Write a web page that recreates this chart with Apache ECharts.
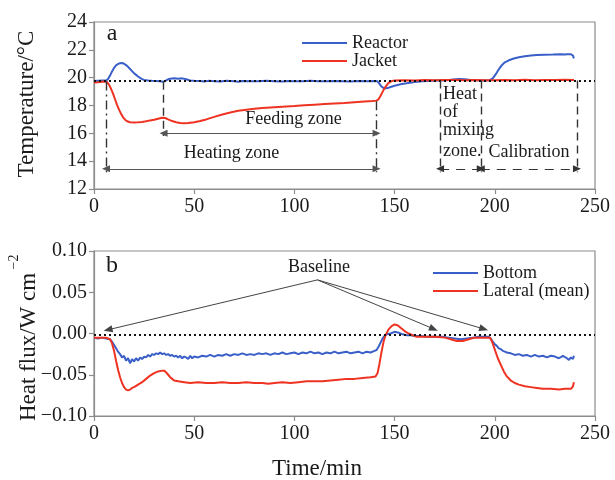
<!DOCTYPE html>
<html>
<head>
<meta charset="utf-8">
<script src="https://cdn.jsdelivr.net/npm/echarts@6/dist/echarts.min.js"></script>
<style>
  html, body { margin: 0; padding: 0; background: #fff; }
  #chart { width: 615px; height: 480px; }
</style>
</head>
<body>
<div id="chart"></div>
<script>
// Axis ranges [min, max, step]
const timeRange = [0, 250, 50];
const tempRange = [12, 24, 2];
const fluxRange = [-0.1, 0.1, 0.05];

// (a) Temperatures, [time/min, °C]
const reactorTemp = [[0,19.76],[2,19.78],[4,19.79],[6,19.8],[7,19.9],[8,20.15],[9,20.45],[10,20.7],[11,20.88],[12,20.98],[13,21.04],[14,21.05],[15,21.0],[16,20.9],[17,20.78],[18,20.62],[19,20.47],[20,20.32],[21,20.2],[22,20.08],[23,19.98],[24,19.9],[25,19.84],[27,19.79],[29,19.77],[31,19.76],[33,19.74],[34.5,19.7],[36,19.8],[37,19.88],[38,19.92],[40,19.95],[42,19.93],[44,19.95],[46,19.88],[48,19.8],[50,19.77],[53,19.76],[55,19.72],[57,19.77],[60,19.75],[63,19.73],[66,19.77],[70,19.75],[72,19.71],[74,19.76],[78,19.75],[82,19.74],[86,19.77],[90,19.75],[94,19.72],[97,19.76],[100,19.75],[104,19.74],[108,19.77],[112,19.75],[116,19.74],[120,19.76],[124,19.75],[128,19.73],[132,19.76],[136,19.75],[140,19.76],[141.5,19.74],[142.5,19.55],[143.5,19.35],[145,19.22],[146.5,19.25],[148,19.33],[150,19.42],[153,19.52],[156,19.6],[160,19.68],[164,19.74],[168,19.78],[172,19.8],[176,19.82],[179,19.86],[182,19.9],[185,19.88],[188,19.84],[191,19.81],[195,19.8],[197.5,19.82],[199,19.95],[200.5,20.25],[202,20.6],[203.5,20.9],[205,21.1],[207,21.25],[209.5,21.38],[212,21.47],[215,21.54],[218,21.59],[221,21.62],[225,21.65],[229,21.66],[233,21.68],[235,21.66],[236,21.69],[238,21.68],[239,21.58],[239.5,21.38]];
const jacketTemp = [[0,19.65],[2,19.67],[4,19.7],[5.5,19.72],[6.5,19.68],[7.5,19.5],[8.5,19.2],[9.5,18.85],[10.5,18.45],[11.5,18.05],[12.5,17.7],[13.5,17.4],[14.5,17.15],[15.5,16.98],[16.5,16.87],[18,16.8],[20,16.77],[22,16.79],[24,16.82],[26,16.87],[28,16.93],[30,16.98],[32,17.05],[34,17.12],[35.5,17.1],[37,17.0],[39,16.88],[41,16.8],[43,16.74],[45,16.72],[47,16.74],[50,16.8],[53,16.88],[56,17.0],[60,17.18],[64,17.35],[68,17.5],[72,17.62],[76,17.7],[80,17.77],[84,17.82],[88,17.86],[92,17.9],[96,17.93],[100,17.96],[105,18.01],[110,18.06],[115,18.1],[120,18.14],[125,18.18],[130,18.23],[135,18.28],[139,18.32],[141,18.35],[142,18.45],[143,18.7],[144,18.98],[145,19.25],[146,19.45],[147,19.62],[148.5,19.75],[150,19.8],[155,19.82],[160,19.8],[165,19.83],[170,19.82],[175,19.84],[180,19.83],[185,19.82],[190,19.83],[195,19.82],[200,19.81],[205,19.84],[210,19.82],[215,19.85],[220,19.82],[225,19.84],[230,19.83],[235,19.85],[239.5,19.83]];

// (b) Heat flux, [time/min, W cm^-2]
const bottomFlux = [[0,-0.005],[2,-0.006],[4,-0.005],[6,-0.006],[8,-0.007],[9,-0.010],[10,-0.014],[11,-0.018],[12,-0.022],[13,-0.025],[14,-0.029],[15,-0.027],[16,-0.033],[17,-0.030],[18,-0.036],[19,-0.031],[20,-0.034],[21,-0.030],[22,-0.033],[23,-0.029],[24,-0.031],[25,-0.028],[26,-0.029],[27,-0.026],[28,-0.028],[29,-0.025],[30,-0.026],[31,-0.024],[32,-0.025],[33,-0.023],[34,-0.025],[35,-0.024],[36,-0.026],[37,-0.025],[38,-0.027],[39,-0.026],[40,-0.028],[41,-0.027],[42,-0.029],[43,-0.027],[44,-0.030],[45,-0.028],[46,-0.029],[47,-0.031],[48,-0.027],[49,-0.030],[50,-0.028],[52,-0.029],[54,-0.027],[56,-0.028],[58,-0.026],[60,-0.028],[62,-0.026],[64,-0.027],[66,-0.025],[68,-0.027],[70,-0.025],[72,-0.026],[74,-0.024],[76,-0.026],[78,-0.025],[80,-0.026],[82,-0.024],[84,-0.025],[86,-0.024],[88,-0.026],[90,-0.024],[92,-0.025],[94,-0.023],[96,-0.025],[98,-0.024],[100,-0.023],[102,-0.025],[104,-0.023],[106,-0.024],[108,-0.022],[110,-0.024],[112,-0.023],[114,-0.025],[116,-0.023],[118,-0.024],[120,-0.022],[122,-0.024],[124,-0.023],[126,-0.022],[128,-0.024],[130,-0.023],[132,-0.022],[134,-0.024],[136,-0.022],[138,-0.023],[140,-0.021],[141,-0.020],[142,-0.016],[143,-0.011],[144,-0.006],[145,-0.003],[146,-0.001],[148,0.000],[150,0.002],[152,0.001],[154,-0.001],[156,-0.002],[158,-0.002],[160,-0.003],[163,-0.003],[166,-0.004],[170,-0.004],[174,-0.004],[177,-0.005],[180,-0.006],[183,-0.007],[186,-0.006],[189,-0.005],[192,-0.004],[195,-0.004],[197,-0.004],[198,-0.006],[199,-0.010],[200,-0.013],[201,-0.015],[202,-0.018],[203,-0.019],[204,-0.021],[205,-0.022],[206,-0.023],[208,-0.024],[210,-0.026],[212,-0.025],[214,-0.027],[216,-0.026],[218,-0.028],[220,-0.026],[222,-0.028],[224,-0.027],[226,-0.029],[228,-0.027],[230,-0.028],[232,-0.030],[234,-0.027],[236,-0.030],[237,-0.032],[238,-0.029],[239,-0.031],[239.5,-0.027]];
const lateralFlux = [[0,-0.005],[3,-0.005],[6,-0.005],[8,-0.007],[9,-0.012],[10,-0.021],[11,-0.033],[12,-0.044],[13,-0.053],[14,-0.06],[15,-0.065],[16,-0.068],[17,-0.069],[18,-0.068],[19,-0.066],[20,-0.065],[22,-0.062],[24,-0.059],[26,-0.055],[28,-0.051],[30,-0.048],[32,-0.046],[34,-0.045],[35,-0.045],[36,-0.047],[37,-0.05],[38,-0.053],[39,-0.055],[40,-0.057],[42,-0.058],[45,-0.059],[48,-0.06],[52,-0.059],[56,-0.06],[60,-0.06],[64,-0.059],[68,-0.06],[72,-0.06],[76,-0.059],[80,-0.06],[84,-0.06],[87,-0.061],[90,-0.06],[94,-0.059],[98,-0.06],[102,-0.059],[106,-0.058],[110,-0.058],[114,-0.058],[118,-0.057],[122,-0.056],[126,-0.055],[130,-0.055],[134,-0.054],[138,-0.053],[140.5,-0.052],[141.5,-0.048],[142.5,-0.036],[143.5,-0.022],[144.5,-0.01],[145.5,-0.002],[147,0.005],[148.5,0.009],[150,0.011],[151.5,0.01],[153,0.007],[155,0.003],[157,0.0],[159,-0.002],[161,-0.004],[165,-0.004],[170,-0.004],[175,-0.005],[178,-0.007],[181,-0.009],[184,-0.009],[187,-0.007],[190,-0.005],[194,-0.005],[197.5,-0.005],[198.5,-0.009],[199.5,-0.016],[200.5,-0.023],[201.5,-0.03],[203,-0.038],[204.5,-0.046],[206,-0.052],[208,-0.057],[210,-0.06],[212,-0.062],[215,-0.064],[218,-0.065],[221,-0.066],[224,-0.067],[228,-0.067],[232,-0.068],[235,-0.067],[238,-0.067],[239,-0.064],[239.5,-0.059]];

// Zone boundaries (min): heating start, feeding start, feeding/heating end,
// heat-of-mixing start, calibration start, calibration end
const zoneTimes = [6, 34.7, 141, 172.7, 193, 241];
const baselineTemp = 19.8;
const zoneArrowTemps = [13.45, 16.0];   // heating-zone row, feeding-zone row
const zoneLineBottom = 13.2;
const baselineFlux = -0.002;
const baselineFrom = [111.5, 0.065];
const baselineTargets = [[7, 0.0045], [169.5, 0.0055], [194.5, 0.0055]];

const FONT = '"Liberation Serif","Times New Roman",Times,serif';
const AXIS_GREY = '#8c8c8c';
const BLUE = '#3b5fc9';
const RED = '#ee3322';
const INK = '#1a1a1a';

const chart = echarts.init(document.getElementById('chart'), null, { renderer: 'canvas' });

function xAxisFor(gridIndex) {
  return {
    gridIndex, type: 'value',
    min: timeRange[0], max: timeRange[1], interval: timeRange[2],
    axisLine: { show: true, onZero: false, lineStyle: { color: AXIS_GREY, width: 1.2 } },
    axisTick: { show: true, inside: false, length: 5, lineStyle: { color: AXIS_GREY, width: 1.2 } },
    axisLabel: { color: INK, fontSize: 20, fontFamily: FONT, margin: 8, showMinLabel: true, showMaxLabel: true },
    splitLine: { show: false }
  };
}
function yAxisFor(gridIndex, range, fmt) {
  return {
    gridIndex, type: 'value',
    min: range[0], max: range[1], interval: range[2],
    axisLine: { show: true, onZero: false, lineStyle: { color: AXIS_GREY, width: 1.2 } },
    axisTick: { show: true, inside: false, length: 5, lineStyle: { color: AXIS_GREY, width: 1.2 } },
    axisLabel: { color: INK, fontSize: 20, fontFamily: FONT, margin: 7, formatter: fmt, showMinLabel: true, showMaxLabel: true },
    splitLine: { show: false }
  };
}

const dotted = { color: '#111', width: 2, type: [2, 3] };
const dashDot = { color: '#333', width: 1.4, type: [9, 4, 2, 4] };
const dashed = { color: '#333', width: 1.4, type: [8, 5] };
const thin = { color: '#555', width: 1, type: 'solid' };
const dashedThin = { color: '#333', width: 1.2, type: [9, 7] };
const HEAD = 'triangle';
const HEAD_SIZE = [7, 8];

function arrow(x0, x1, y, style) {
  return [
    { coord: [x0, y], symbol: HEAD, symbolSize: HEAD_SIZE, lineStyle: style },
    { coord: [x1, y], symbol: HEAD, symbolSize: HEAD_SIZE }
  ];
}
function vline(x, yTop, yBot, style) {
  return [
    { coord: [x, yTop], symbol: 'none', lineStyle: style },
    { coord: [x, yBot], symbol: 'none' }
  ];
}
function hline(y, style) {
  return [
    { coord: [timeRange[0], y], symbol: 'none', lineStyle: style },
    { coord: [timeRange[1], y], symbol: 'none' }
  ];
}

const [tHeat, tFeed, tEnd, tMix, tCal, tCalEnd] = zoneTimes;
const [rowHeat, rowFeed] = zoneArrowTemps;

const topMarks = [
  hline(baselineTemp, dotted),
  vline(tHeat, 19.72, zoneLineBottom, dashDot),
  vline(tFeed, 19.7, 15.8, dashed),
  vline(tEnd, 18.3, zoneLineBottom, dashDot),
  vline(tMix, baselineTemp, zoneLineBottom, dashed),
  vline(tCal, baselineTemp, zoneLineBottom, dashed),
  vline(tCalEnd, baselineTemp, zoneLineBottom, dashed),
  arrow(tHeat, tEnd, rowHeat, thin),
  arrow(tFeed, tEnd, rowFeed, thin),
  arrow(tMix, tCal, rowHeat, dashedThin),
  arrow(tCal, tCalEnd, rowHeat, dashedThin)
];

const bottomMarks = [hline(baselineFlux, dotted)].concat(baselineTargets.map(function (p) {
  return [
    { coord: baselineFrom, symbol: 'none', lineStyle: { color: '#444', width: 1, type: 'solid' } },
    { coord: p, symbol: HEAD, symbolSize: [7, 9] }
  ];
}));

function lineSeries(name, data, color, xi, yi, marks) {
  const s = {
    name, type: 'line', data, xAxisIndex: xi, yAxisIndex: yi,
    showSymbol: false, symbol: 'none', smooth: false,
    lineStyle: { color, width: 2 }, itemStyle: { color },
    silent: true, z: 2
  };
  if (marks) {
    s.markLine = {
      silent: true, animation: false, symbol: ['none', 'none'],
      label: { show: false }, emphasis: { disabled: true },
      lineStyle: { color: '#333' }, itemStyle: { color: '#111' },
      z: 5, data: marks
    };
  }
  return s;
}

function txt(text, x, y, size, align, extra) {
  return Object.assign({
    type: 'text', x, y, silent: true,
    style: {
      text, fill: INK, font: size + 'px ' + FONT,
      align: align || 'center', verticalAlign: 'middle',
      textAlign: align || 'center', textVerticalAlign: 'middle'
    }
  }, extra || {});
}

const fmtFlux = function (v) {
  const s = Math.abs(v) < 1e-9 ? '0.00' : v.toFixed(2);
  return s.replace('-', '\u2212');
};

chart.setOption({
  animation: false,
  backgroundColor: '#fff',
  textStyle: { fontFamily: FONT },
  grid: [
    { left: 94, top: 22, right: 20, height: 167, show: true, borderColor: AXIS_GREY, borderWidth: 1.2, containLabel: false },
    { left: 94, top: 251, right: 20, height: 165, show: true, borderColor: AXIS_GREY, borderWidth: 1.2, containLabel: false }
  ],
  xAxis: [xAxisFor(0), xAxisFor(1)],
  yAxis: [yAxisFor(0, tempRange), yAxisFor(1, fluxRange, fmtFlux)],
  legend: [
    {
      data: ['Reactor', 'Jacket'], orient: 'vertical', left: 302, top: 34,
      icon: 'rect', itemWidth: 45, itemHeight: 2, itemGap: 0,
      textStyle: { fontSize: 18, fontFamily: FONT, color: INK, lineHeight: 17, padding: [0, 0, 0, 0] },
      selectedMode: false, padding: 0
    },
    {
      data: ['Bottom', 'Lateral (mean)'], orient: 'vertical', left: 433, top: 264,
      icon: 'rect', itemWidth: 45, itemHeight: 2, itemGap: 0,
      textStyle: { fontSize: 18, fontFamily: FONT, color: INK, lineHeight: 18, padding: [0, 0, 0, 0] },
      selectedMode: false, padding: 0
    }
  ],
  series: [
    lineSeries('Reactor', reactorTemp, BLUE, 0, 0, topMarks),
    lineSeries('Jacket', jacketTemp, RED, 0, 0),
    lineSeries('Bottom', bottomFlux, BLUE, 1, 1, bottomMarks),
    lineSeries('Lateral (mean)', lateralFlux, RED, 1, 1)
  ],
  graphic: [
    txt('a', 112, 34, 24),
    txt('b', 112, 266, 24),
    txt('Feeding zone', 293.5, 119.5, 18),
    txt('Heating zone', 231.5, 153.5, 18),
    txt('Heat', 443, 94.5, 18, 'left'),
    txt('of', 443, 112, 18, 'left'),
    txt('mixing', 443, 130, 18, 'left'),
    txt('zone.', 443, 151, 18, 'left'),
    txt('Calibration', 529, 152.5, 18),
    txt('Baseline', 319, 267.5, 18),
    txt('Temperature/\u00b0C', 27, 104, 23, 'center', { rotation: Math.PI / 2 }),
    txt('Heat flux/W cm', 28.5, 347, 23, 'center', { rotation: Math.PI / 2 }),
    txt('\u22122', 14, 262, 14, 'center', { rotation: Math.PI / 2 }),
    txt('Time/min', 317, 469, 23)
  ]
});
</script>
</body>
</html>
